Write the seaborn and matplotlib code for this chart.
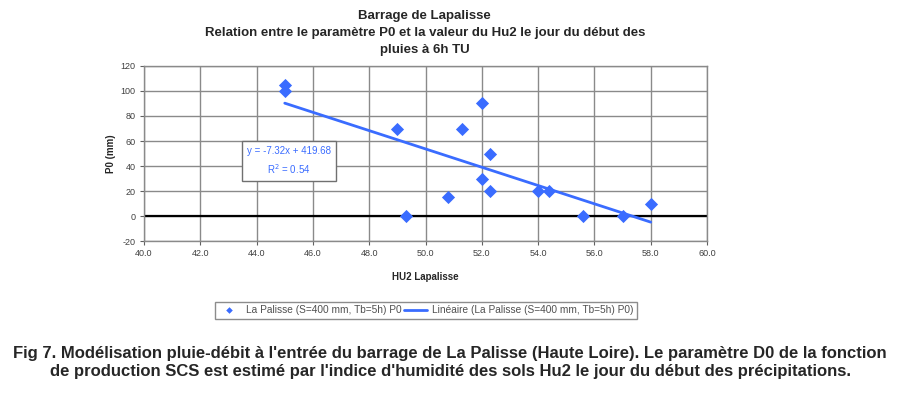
import numpy as np
import pandas as pd
import seaborn as sns
import matplotlib.pyplot as plt


# -------------------------------------------------
# DATA
# -------------------------------------------------
hu2 = [45.0, 45.0, 49.0, 49.3, 50.8, 51.3, 52.0, 52.0, 52.3, 52.3, 54.0, 54.4, 55.6, 57.0, 58.0]
p0 = [105, 100, 70, 0, 15, 70, 90, 30, 50, 20, 20, 20, 0, 0, 10]

x_ticks = [40, 42, 44, 46, 48, 50, 52, 54, 56, 58, 60]
y_ticks = [-20, 0, 20, 40, 60, 80, 100, 120]

series_label = "La Palisse (S=400 mm, Tb=5h) P0"
trend_label = "Linéaire (La Palisse (S=400 mm, Tb=5h) P0)"

title = ("Barrage de Lapalisse\n"
         "Relation entre le paramètre P0 et la valeur du Hu2 le jour du début des\n"
         "pluies à 6h TU")
caption = ("Fig 7. Modélisation pluie-débit à l'entrée du barrage de La Palisse (Haute Loire). "
           "Le paramètre D0 de la fonction\n"
           "de production SCS est estimé par l'indice d'humidité des sols Hu2 le jour du début des précipitations.")

BLUE = "#3a6cff"


# -------------------------------------------------
# PLOT
# -------------------------------------------------
df = pd.DataFrame({"hu2": hu2, "p0": p0})

sns.set_style("white")
plt.rcParams["font.family"] = ["Liberation Sans", "DejaVu Sans"]
plt.rcParams["axes.unicode_minus"] = False

fig = plt.figure(figsize=(9.0, 3.94), dpi=100)
ax = fig.add_axes([0.16, 0.3883, 0.6256, 0.4442])

# linear trend
slope, intercept = np.polyfit(df["hu2"], df["p0"], 1)
r2 = np.corrcoef(df["hu2"], df["p0"])[0, 1] ** 2
x_fit = np.array([df["hu2"].min(), df["hu2"].max()])
ax.plot(x_fit, slope * x_fit + intercept, color=BLUE, lw=2, zorder=3,
        label=trend_label)

sns.scatterplot(data=df, x="hu2", y="p0", marker="D", s=45, color=BLUE,
                edgecolor=BLUE, linewidth=0, zorder=4, ax=ax, label=series_label)

ax.axhline(0, color="black", lw=1.6, zorder=2)

ax.set_xlim(40, 60)
ax.set_ylim(-20, 120)
ax.set_xticks(x_ticks)
ax.set_xticklabels([f"{t:.1f}" for t in x_ticks])
ax.set_yticks(y_ticks)
ax.grid(True, color="#8a8a8a", lw=1)
ax.set_axisbelow(True)
for s in ax.spines.values():
    s.set_color("#8a8a8a")
    s.set_linewidth(1)
ax.tick_params(axis="both", length=3, color="#606060", labelsize=6.5,
               labelcolor="#404040", pad=3, direction="out",
               bottom=True, left=True)

ax.set_xlabel("HU2 Lapalisse", fontsize=7, fontweight="bold", labelpad=10)
ax.set_ylabel("P0 (mm)", fontsize=7, fontweight="bold", labelpad=3)

ax.text(45.15, 44, f"y = {slope:.2f}x + {intercept:.2f}\nR$^2$ = {r2:.2f}",
        color=BLUE, fontsize=7, ha="center", va="center", linespacing=1.6,
        bbox=dict(boxstyle="square,pad=0.5", fc="white", ec="#707070", lw=1),
        zorder=5)

fig.text(0.472, 0.974, title, ha="center", va="top", fontsize=9.5,
         fontweight="bold", linespacing=1.55)

handles, labels = ax.get_legend_handles_labels()
ax.legend(handles[::-1], labels[::-1], loc="center",
          bbox_to_anchor=(0.473, 0.213), bbox_transform=fig.transFigure,
          ncol=2, fontsize=7.3, frameon=True, fancybox=False,
          edgecolor="#707070", handlelength=2.2, handletextpad=0.5,
          columnspacing=0.3, borderpad=0.35, markerscale=0.5,
          labelcolor="#505050")

fig.text(0.5, 0.122, caption, ha="center", va="top", fontsize=12,
         fontweight="bold", linespacing=1.22)

fig.savefig("out.png", dpi=100)
